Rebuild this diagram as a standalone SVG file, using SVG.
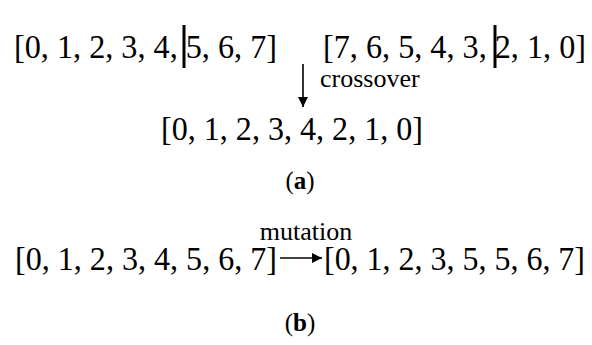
<svg xmlns="http://www.w3.org/2000/svg" width="592" height="345" viewBox="0 0 592 345">
<style>
text{font-family:"Liberation Serif","DejaVu Serif",serif;fill:#000}
</style>
<defs>
<marker id="ah" viewBox="0 0 10 10" refX="10" refY="5" markerWidth="10" markerHeight="12" markerUnits="userSpaceOnUse" orient="auto">
<path d="M0,0 L10,5 L0,10 z" fill="#000"/>
</marker>
</defs>
<g font-family="Liberation Serif, DejaVu Serif, serif" fill="#000">
<g id="parent1"><text font-size="34" x="14" y="58" textLength="263" lengthAdjust="spacingAndGlyphs">[0, 1, 2, 3, 4, 5, 6, 7]</text></g>
<g id="parent2"><text font-size="34" x="323" y="58" textLength="263" lengthAdjust="spacingAndGlyphs">[7, 6, 5, 4, 3, 2, 1, 0]</text></g>
<g id="child"><text font-size="34" x="161" y="140" textLength="262" lengthAdjust="spacingAndGlyphs">[0, 1, 2, 3, 4, 2, 1, 0]</text></g>
<g id="cut1"><line stroke="#000" stroke-width="3" x1="184" y1="25" x2="184" y2="68"/></g>
<g id="cut2"><line stroke="#000" stroke-width="3" x1="495" y1="25" x2="495" y2="68"/></g>
<g id="capA"><text font-size="25" x="300" y="189" text-anchor="middle">(<tspan font-weight="bold">a</tspan>)</text></g>
<g id="before"><text font-size="34" x="15" y="270" textLength="262" lengthAdjust="spacingAndGlyphs">[0, 1, 2, 3, 4, 5, 6, 7]</text></g>
<g id="after"><text font-size="34" x="324" y="270" textLength="261" lengthAdjust="spacingAndGlyphs">[0, 1, 2, 3, 5, 5, 6, 7]</text></g>
<g id="capB"><text font-size="25" x="300" y="331" text-anchor="middle">(<tspan font-weight="bold">b</tspan>)</text></g>
<g id="connectors">
<line x1="303" y1="64" x2="303" y2="107" stroke="#000" stroke-width="1.6" marker-end="url(#ah)"/>
<text font-size="26" x="320" y="87">crossover</text>
<line x1="280" y1="258" x2="322" y2="258" stroke="#000" stroke-width="1.6" marker-end="url(#ah)"/>
<text font-size="26" x="306" y="240" text-anchor="middle">mutation</text>
</g>
</g>
</svg>
